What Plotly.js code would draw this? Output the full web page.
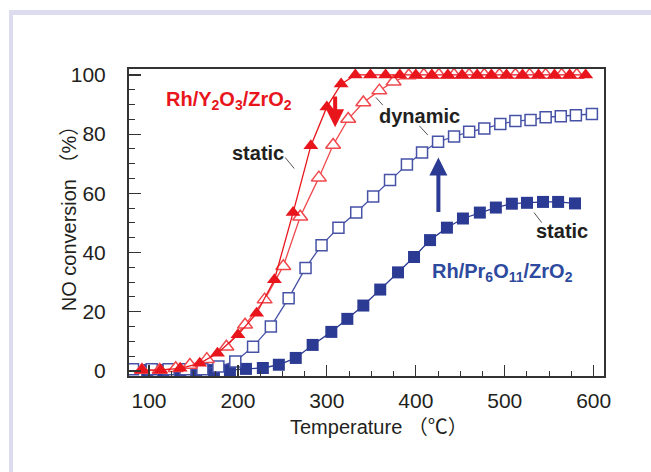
<!DOCTYPE html>
<html>
<head>
<meta charset="utf-8">
<script src="https://cdn.plot.ly/plotly-3.0.1.min.js"></script>
<style>
html,body{margin:0;padding:0;background:#fff;}
#wrap{position:relative;width:651px;height:472px;overflow:hidden;}
#frame{position:absolute;left:9px;top:10px;width:700px;height:500px;border-left:4px solid #dcdcee;border-top:5px solid #dcdcee;}
#chart{position:absolute;left:0;top:0;width:651px;height:472px;}
</style>
</head>
<body>
<div id="wrap"><div id="frame"></div><div id="chart"></div></div>
<script>
// Rh/Y2O3/ZrO2 static (filled triangles)
const yStaticT = [92,113,135,157,177,200,221,241,262,282,300,316,332,349,366,382,400,418,436,452,469,485,502,520,538,556,573,591];
const yStaticV = [0.3,0.3,0.9,2.6,6.0,12.2,19.5,30.8,53.5,76.1,89.2,96.9,100,100,100,100,100,100,100,100,100,100,100,100,100,100,100,100];
// Rh/Y2O3/ZrO2 dynamic (open triangles)
const yDynT = [92,112,130,146,165,187,208,230,251,270,291,307,324,341,359,375,392,409,426,443,460,477,494,512,528,546,564,581];
const yDynV = [0.3,0.3,0.9,2.0,4.0,8.2,15.6,24.1,35.4,52.1,65.3,76.3,85.1,90.7,94.7,97.7,99.8,100,100,100,100,100,100,100,100,100,100,100];
// Rh/Pr6O11/ZrO2 dynamic (open squares)
const pDynT = [82,103,122,141,160,178,197,217,237,257,276,294,313,333,352,371,390,407,425,443,460,477,495,512,529,546,563,580,598];
const pDynV = [0.6,0.6,0.6,0.6,0.6,1.5,3.2,8.2,15.0,24.6,34.8,42.5,48.4,53.5,58.9,64.5,69.7,73.8,77.4,79.2,80.8,81.9,83.4,84.4,84.8,85.7,86.0,86.4,86.8];
// Rh/Pr6O11/ZrO2 static (filled squares)
const pStaticT = [98,116,135,153,173,191,209,228,246,265,284,305,323,341,360,380,398,416,435,453,472,490,508,525,543,560,579];
const pStaticV = [0.3,0.3,0.3,0.3,0.3,0.3,0.7,1.0,2.1,4.4,8.8,13.2,17.6,22.1,27.5,33.3,38.5,44.2,48.4,51.5,53.5,55.2,56.5,56.8,57.1,57.1,56.6];
const xTicks = [100,200,300,400,500,600];
const yTicks = [0,20,40,60,80,100];

const RED = '#e8161c', RED2 = '#f0484c', BLUE = '#2b3a92', BLUE2 = '#4652a6';

const traces = [
  {x: pStaticT, y: pStaticV, mode: 'lines+markers', line: {color: BLUE, width: 1.3},
   marker: {symbol: 'square', size: 12, color: BLUE}},
  {x: pDynT, y: pDynV, mode: 'lines+markers', line: {color: BLUE2, width: 1.3},
   marker: {symbol: 'square', size: 11, color: '#fff', line: {color: BLUE2, width: 1.5}}},
  {x: yDynT, y: yDynV, mode: 'lines+markers', line: {color: RED2, width: 1.3},
   marker: {symbol: 'triangle-up', size: 13, color: '#fff', line: {color: RED2, width: 1.5}}},
  {x: yStaticT, y: yStaticV, mode: 'lines+markers', line: {color: RED, width: 1.3},
   marker: {symbol: 'triangle-up', size: 13, color: RED}}
];

const F = 'Liberation Sans, Arial, Noto Sans CJK JP, sans-serif';
const leader = (x0,y0,x1,y1) => ({type:'line', xref:'x', yref:'y', x0, y0, x1, y1, line:{color:'#555', width:1}});

const layout = {
  width: 651, height: 472,
  margin: {l: 129, r: 47, t: 69, b: 96, pad: 0},
  paper_bgcolor: 'rgba(0,0,0,0)', plot_bgcolor: '#fff',
  showlegend: false,
  font: {family: F, color: '#231f20', size: 21},
  xaxis: {
    range: [77.5, 611.6], tickvals: xTicks, ticks: 'inside', ticklen: 11, tickwidth: 1.2, tickcolor: '#333',
    minor: {tickvals: [125,150,175,225,250,275,325,350,375,425,450,475,525,550,575], ticks: 'inside', ticklen: 5, tickcolor: '#333', tickwidth: 1},
    showline: true, mirror: true, linecolor: '#333', linewidth: 2, showgrid: false, zeroline: false,
    tickfont: {size: 21, family: F}, ticklabelstandoff: 5
  },
  yaxis: {
    range: [-1.7, 102], tickvals: yTicks, ticks: 'inside', ticklen: 12, tickwidth: 1.2, tickcolor: '#333',
    minor: {dtick: 5, ticks: 'inside', ticklen: 6, tickcolor: '#333', tickwidth: 1},
    showline: true, mirror: true, linecolor: '#333', linewidth: 2, showgrid: false, zeroline: false,
    tickfont: {size: 21, family: F}, ticklabelstandoff: 17
  },
  shapes: [
    leader(253.1,72.1,263.3,68.4),
    leader(355.1,92.4,362.9,89.8),
    leader(404.0,82.8,413.5,79.7),
    leader(532.9,53.5,541.6,50.1)
  ],
  annotations: [
    {xref: 'paper', yref: 'paper', x: 0.5263, y: -0.1661, xanchor: 'center', yanchor: 'middle', text: 'Temperature （℃）', showarrow: false, font: {size: 20, family: F, color: '#231f20'}},
    {xref: 'paper', yref: 'paper', x: -0.1263, y: 0.53, xanchor: 'center', yanchor: 'middle', textangle: -90, text: 'NO conversion （%）', showarrow: false, font: {size: 20, family: F, color: '#231f20'}},
    {x: 190.2, y: 91.3, text: '<b>Rh/Y<sub>2</sub>O<sub>3</sub>/ZrO<sub>2</sub></b>', showarrow: false, font: {size: 20, color: RED, family: F}},
    {x: 222.2, y: 73.6, text: '<b>static</b>', showarrow: false, font: {size: 20, color: '#231f20', family: F}},
    {x: 403.7, y: 86.0, text: '<b>dynamic</b>', showarrow: false, font: {size: 20, color: '#231f20', family: F}},
    {x: 564.9, y: 47.2, text: '<b>static</b>', showarrow: false, font: {size: 20, color: '#231f20', family: F}},
    {x: 497.0, y: 33.1, text: '<b>Rh/Pr<sub>6</sub>O<sub>11</sub>/ZrO<sub>2</sub></b>', showarrow: false, font: {size: 20, color: '#2e4a9e', family: F}},
    {x: 309.3, y: 82.3, ax: 309.3, ay: 93.2, axref: 'x', ayref: 'y', text: '', showarrow: true, arrowhead: 2, arrowsize: 0.9, arrowwidth: 4, arrowcolor: RED},
    {x: 425.4, y: 72.1, ax: 425.4, ay: 53.2, axref: 'x', ayref: 'y', text: '', showarrow: true, arrowhead: 2, arrowsize: 0.9, arrowwidth: 4, arrowcolor: BLUE}
  ]
};

Plotly.newPlot('chart', traces, layout, {displayModeBar: false, staticPlot: true});
</script>
</body>
</html>
